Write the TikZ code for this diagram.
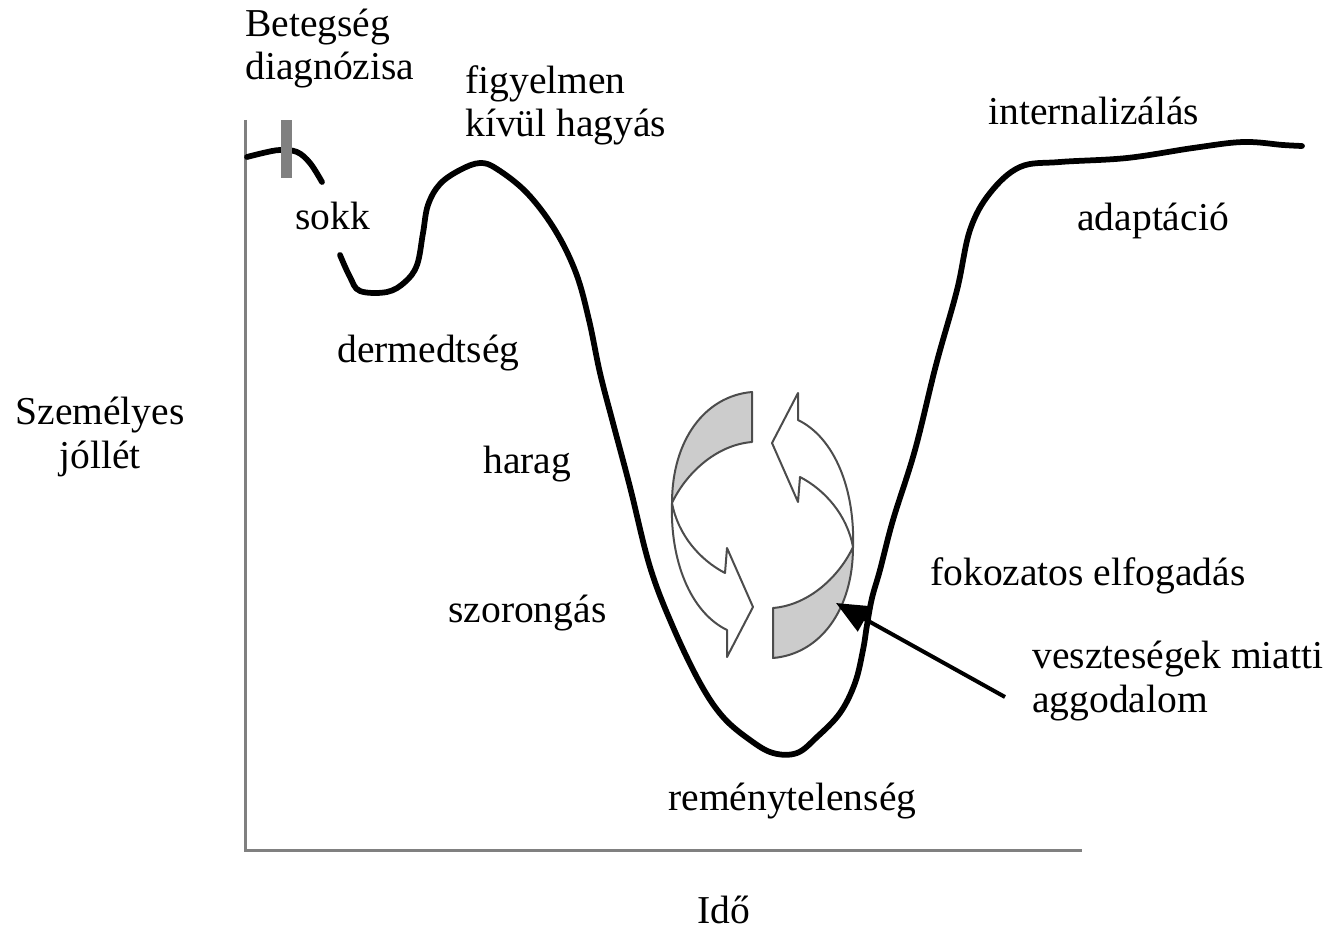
\documentclass[tikz,border=0pt]{standalone}
\usepackage{fontspec}
\setmainfont{Liberation Serif}
\usetikzlibrary{arrows.meta}
\begin{document}
\begin{tikzpicture}[x=0.02cm, y=-0.02cm, every node/.style={font=\fontsize{22.5}{24.5}\selectfont, inner sep=0pt},
  axisline/.style={gray, line width=0.06cm},
  moodline/.style={line width=0.115cm, line join=round, line cap=round},
  cyclearrow/.style={draw=black!70, line width=0.04cm, line join=round}]
\useasboundingbox (0,0) rectangle (1325,929);
\draw[axisline] (245,120) -- (245,850) -- (1082,850);
\draw[moodline] plot[smooth, tension=0.6] coordinates {(247,157) (263,153) (280,150) (297,152) (310,163) (322,182)};
\draw[moodline] plot[smooth, tension=0.6] coordinates {(340,255) (350,277) (360,291) (387,292) (405,282) (417,265) (423,233) (428,205) (440,184) (460,170) (480,163) (497,169) (527,193) (555,230) (576,273) (589,320) (600,373) (613,423) (630,487) (650,567) (673,627) (700,683) (723,717) (750,740) (773,753) (797,753) (817,737) (840,713) (855,683) (863,650) (867,625) (872,598) (880,570) (893,520) (915,450) (936,365) (957,290) (970,230) (990,193) (1020,167) (1060,162) (1127,158) (1193,148) (1243,142) (1283,145) (1302,146)};
\fill[gray] (281,120) rectangle (292,178);
\foreach \r in {0,180} {
  \begin{scope}[rotate around={\r:(762.5,525)}]
  \filldraw[cyclearrow, fill=gray!40] (752,392) .. controls (705,396) and (672,440) .. (672,503) .. controls (685,475) and (715,445) .. (752,442) -- cycle;
  \filldraw[cyclearrow, fill=white] (672,503) .. controls (670,560) and (690,612) .. (727,630) -- (727,657) -- (753,607) -- (727,548) -- (725,573) .. controls (700,560) and (678,535) .. (672,503) -- cycle;
  \end{scope}
}
\node[anchor=base west, align=left] (diagnosis) at (245,80) {Betegség\\diagnózisa};
\node[anchor=base west, align=left] (ignoring) at (465,137) {figyelmen\\kívül hagyás};
\node[anchor=base west] (internal) at (988,125) {internalizálás};
\node[anchor=base west] (shock) at (295,230) {sokk};
\node[anchor=base west] (adapt) at (1077,231) {adaptáció};
\node[anchor=base west] (numb) at (337,362) {dermedtség};
\node[anchor=base, align=center] (wellbeing) at (100,468) {Személyes\\jóllét};
\node[anchor=base west] (anger) at (483,473) {harag};
\node[anchor=base west] (accept) at (930,585) {fokozatos elfogadás};
\node[anchor=base west] (anxiety) at (448,622) {szorongás};
\node[anchor=base west, align=left] (loss) at (1032,712) {veszteségek miatti\\aggodalom};
\node[anchor=base west] (despair) at (668,810) {reménytelenség};
\node[anchor=base west] (time) at (697,923) {Idő};
\coordinate (lossfoot) at (1005,697);
\coordinate (losstip) at (836,603);
\draw[line width=0.08cm, -{Triangle[length=0.66cm, width=0.56cm]}] (lossfoot) -- (losstip);
\end{tikzpicture}
\end{document}
